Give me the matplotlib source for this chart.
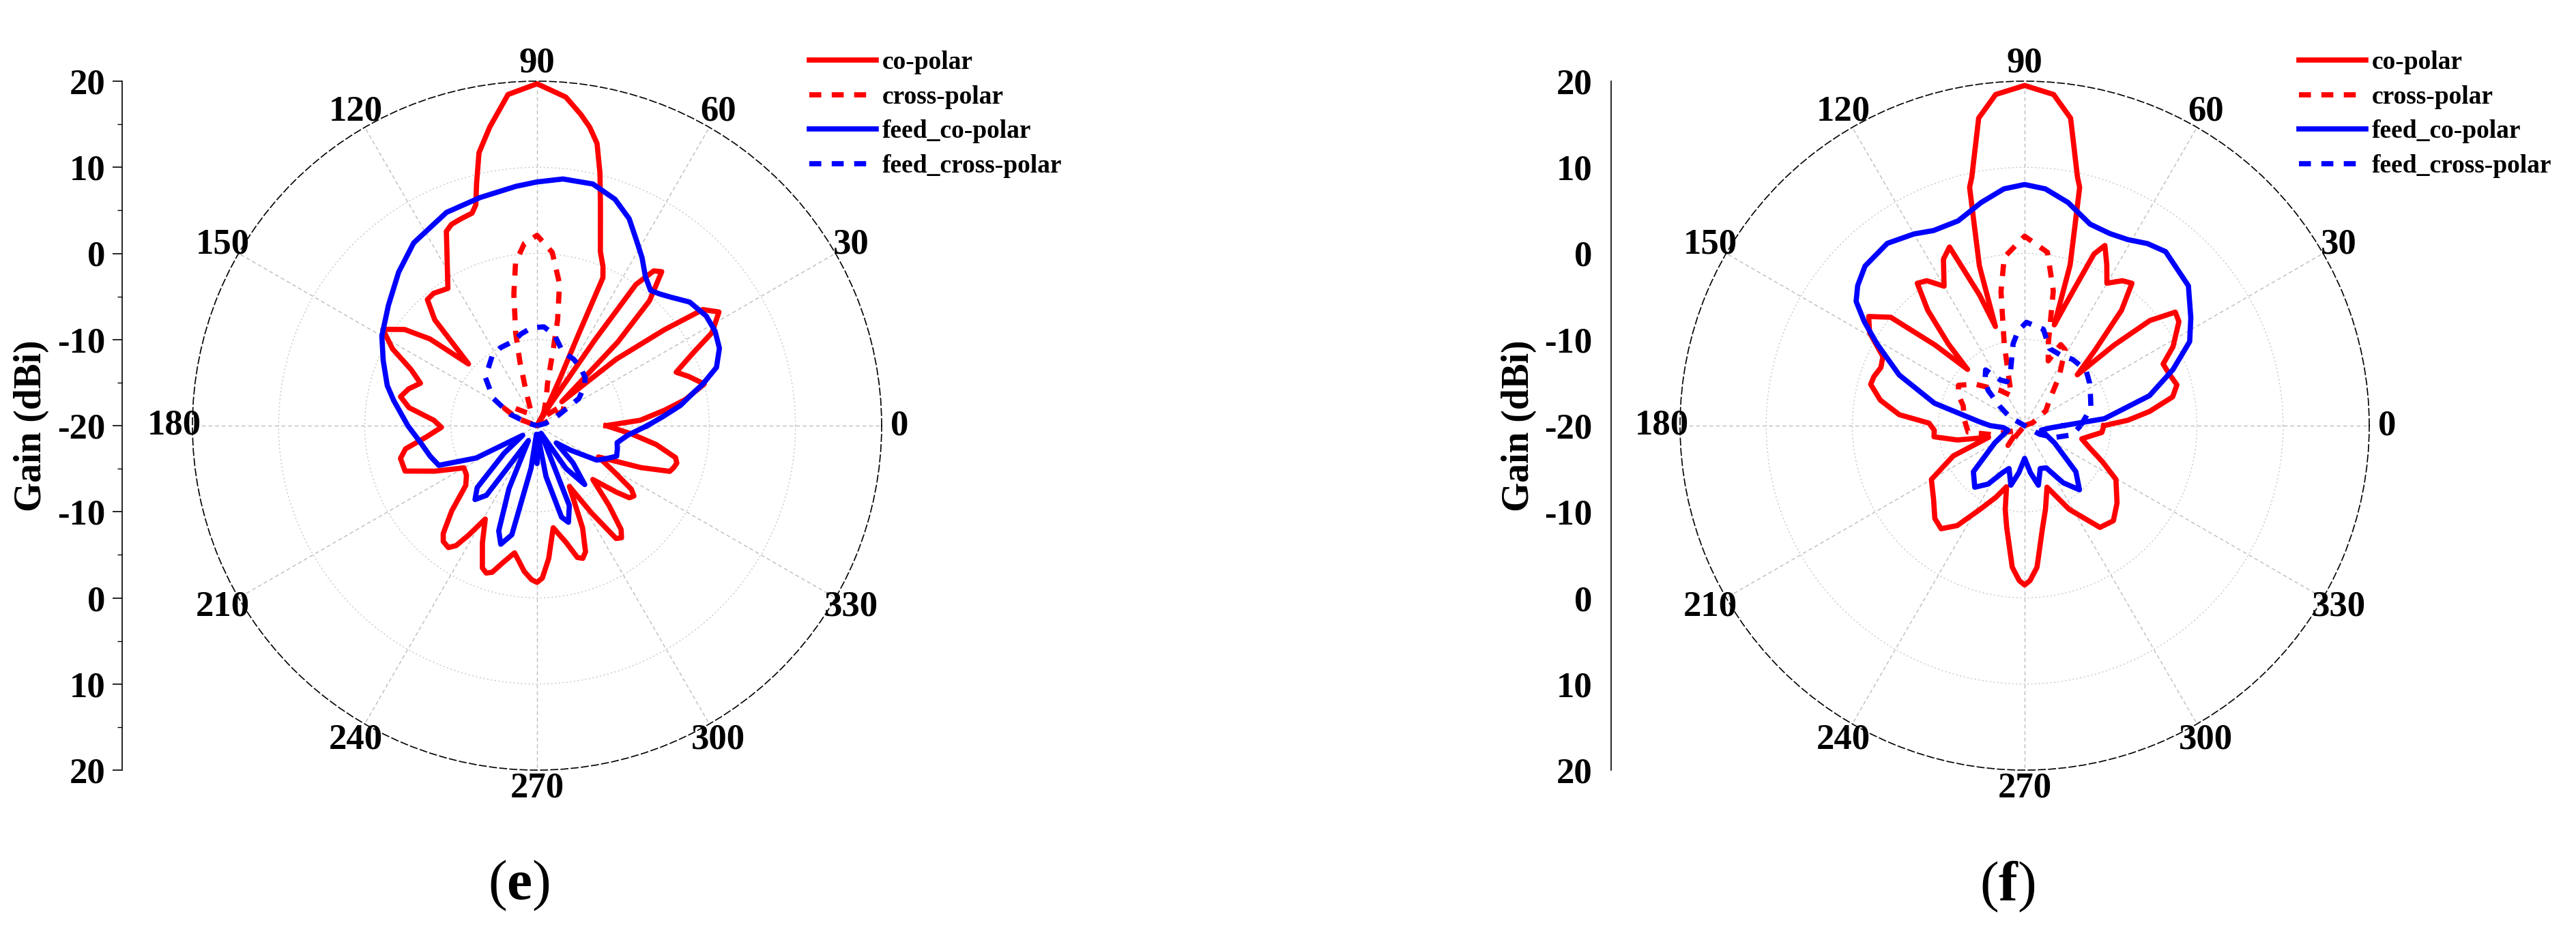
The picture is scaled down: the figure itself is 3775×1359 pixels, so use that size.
import numpy as np
import matplotlib.pyplot as plt

plt.rcParams["font.family"] = ["Liberation Serif", "DejaVu Serif"]
plt.rcParams["mathtext.fontset"] = "custom"
plt.rcParams["mathtext.rm"] = "Liberation Serif"
plt.rcParams["mathtext.bf"] = "Liberation Serif:bold"

RED = "#ff0000"
BLUE = "#0000ff"

LEGEND_LABELS = ["co-polar", "cross-polar", "feed_co-polar", "feed_cross-polar"]
THETA_TICKS = list(range(0, 360, 30))
GAIN_TICKS = [-40, -30, -20, -10, 0, 10, 20, 30, 40]
GAIN_LABELS = ["20", "10", "0", "-10", "-20", "-10", "0", "10", "20"]

# ---- panel (e): angle (deg) / gain (dBi) ----
E_CO_ANG = [0, 3, 7, 10, 14, 18, 21, 25, 28, 32, 35, 37, 40, 44, 46, 48, 51, 53, 55,
            56, 58, 60, 62, 64, 65.5, 66, 67.5, 70, 74, 76, 78, 80, 82, 85, 90, 95,
            99, 102, 104, 105.5, 107, 110, 113, 115, 119, 123, 128, 131, 134, 138,
            141, 144, 148, 152, 156, 160, 164, 168, 172, 177, 181, 186, 190, 193.5,
            199, 204, 210, 215, 220, 225, 229, 231, 234, 236, 238, 241, 245, 249, 251,
            253, 256, 260, 265, 268, 270, 272, 275, 279, 284, 287, 289, 291, 294, 298,
            302, 305, 307, 309, 312, 316, 320, 322, 324, 326, 329, 333, 338, 341, 343,
            345, 347, 351, 355, 360]
E_CO_DB = [-12, -8, -5, -2.5, 0, -1.5, -2.7, 0, 3, 4.9, 3.5, -1.5, -8, -16, -6.5, -0.5,
           3, 2.5, 0, -8, -17, -20, -17, -14, -9, -1.2, 0, 1.5, 6.7, 10.2, 13.5, 15.2,
           16.5, 18.3, 19.7, 18.6, 15.1, 12.4, 9, 6.6, 5.8, 5.6, 5.4, 4.9, 1.5, -1,
           -0.5, -0.6, -2.9, -9.3, -4, -1, 1.1, -1, -4, -5.6, -4.5, -3.8, -5, -8, -8.9,
           -7, -4.5, -3.7, -3.8, -7, -10.2, -10, -9.2, -6, -3.4, -2.7, -2.5, -3.2, -5,
           -7.6, -5, -2.3, -1.9, -2.2, -3.6, -5, -3, -2.1, -1.8, -2.3, -4.5, -8, -6,
           -4, -3.7, -4.3, -7, -12, -8, -4, -3.7, -4.5, -7.5, -11, -8, -6.4, -6.1,
           -6.8, -9.5, -12, -7, -3.7, -3.4, -3.2, -3.5, -6, -9, -12]

E_X_ANG = [0, 20, 30, 38, 45, 55, 65, 72, 76, 78, 79, 81, 85, 90, 94, 97.5, 100, 103,
           105, 108, 115, 130, 145, 152, 160, 175, 360]
E_X_DB = [-20, -19, -16.5, -16, -18, -19, -18, -16.5, -15, -11, -7.5, -3.3, 0.2, 2.1,
          1.2, -0.9, -4.5, -9, -12.3, -16, -18.5, -18, -16, -15.7, -17.5, -20, -20]

E_FCO_ANG = [0, 4, 8, 12, 14, 18, 23, 28, 33, 39, 44, 47, 50, 54, 58, 62, 66, 71, 77,
             84, 90, 95, 104, 113, 124, 132, 141, 150, 157, 165, 170, 180, 188, 196,
             202, 208, 214, 220, 226, 230, 234, 240, 246, 250, 253, 257, 262, 266,
             270, 274, 280, 285, 288, 292, 298, 304, 309, 314, 318, 324, 330, 334,
             339, 344, 348, 354, 360]
E_FCO_DB = [-7.2, -5.4, -3.2, -1.4, -0.2, 1.9, 3.0, 3.4, 3.4, 2.8, 1.5, 0.9, 0.5, 1.4,
            3, 4.5, 6.3, 7.8, 8.8, 8.8, 8.3, 7.9, 7.3, 6.9, 5.6, 4, 2.2, 0.8, -0.6, -2,
            -3.1, -5, -6.3, -7.1, -7.7, -12, -18, -15, -10, -8.8, -10, -18, -12, -7,
            -5.6, -7, -15, -19, -15.6, -19, -14, -9, -8.2, -10, -19, -14, -11.2, -14,
            -17, -15.1, -12, -11.2, -10.1, -10.3, -10.5, -9.4, -7.2]

E_FX_ANG = [0, 15, 22, 27, 33, 40, 45, 53, 61, 71, 79, 86, 93, 100, 105, 115, 123, 137,
            148, 157, 165, 175, 360]
E_FX_DB = [-20, -19, -18, -17, -14.2, -12.8, -12.1, -11.6, -11.2, -10.9, -9.3, -8.5,
           -8.6, -9.2, -9.8, -10, -10.4, -11.8, -14, -16.6, -19, -20, -20]

# ---- panel (f) ----
F_CO_ANG = [0, 3, 6.5, 11, 15, 20, 24, 28, 34, 37, 40, 42, 44, 47, 50, 53, 56, 60, 63,
            66, 68, 70, 72, 73.6, 74.2, 77, 78, 81.5, 85, 90, 95, 98.5, 102, 103,
            105.8, 106.4, 109, 112.8, 116, 120, 124, 127, 130, 133, 135.4, 138, 141,
            145, 149, 154, 158, 162, 165, 170, 175, 178.5, 183, 187, 192, 198, 203,
            210, 219, 226, 231, 236, 242, 248, 253.5, 257, 260, 265, 268, 270, 272,
            275, 280, 284, 290, 298, 306.5, 313, 320, 329.5, 335, 341, 347, 352, 355,
            360]
F_CO_DB = [-10.8, -8, -5.4, -2.5, -1.7, -2.2, -2.4, -0.5, 1.6, 1.9, -1, -6, -11.5, -8,
           -2.5, 0.7, 0.3, -0.9, 1, 2.9, 1.5, -3, -6, -7.8, -0.6, 8.4, 9.5, 16.1, 18.6,
           19.5, 18.6, 16.1, 9.5, 8.4, -0.7, -8, -4, 2.5, 1.5, -1.3, 0.3, 0.7, -2.5,
           -7, -10.7, -6, 0, 2.1, 1, -1.7, -2, -1.6, -1.5, -3, -5.4, -8.9, -9.5, -9.4,
           -12, -15.6, -11, -7.5, -6.4, -5, -4.6, -6, -9, -11, -12.6, -10, -8, -3.5,
           -2, -1.5, -2, -3.5, -8, -10, -12.4, -9, -5.3, -4.9, -6, -7.7, -10, -12,
           -13.2, -12, -11, -10.8]

F_X_ANG = [0, 20, 35, 45, 55, 62, 66, 70, 74, 75.3, 78, 82.5, 90, 96.9, 100, 104, 108,
           114, 125, 140, 148.6, 155, 162, 175, 186.6, 195, 205, 215, 230, 245, 360]
F_X_DB = [-20, -19, -17, -16, -13, -10, -9.7, -12, -10, -8.6, -4, 0.3, 2.0, -0.3, -4.2,
          -10.2, -14, -16.2, -15, -12.5, -11, -11.5, -12.5, -13, -13.4, -16, -18.5,
          -19, -17, -20, -20]

F_FCO_ANG = [0, 5, 13.5, 20.7, 27, 33, 40.5, 51, 56, 61, 66, 72, 79, 85, 90, 95, 101,
             108, 115, 120, 127, 135, 140, 143.6, 147, 151, 158, 166, 175, 180, 185,
             195, 210, 222, 231, 238, 245, 250, 257, 263, 270, 277, 283, 290, 297, 304,
             310.5, 318, 330, 345, 355, 360]
F_FCO_DB = [-15.5, -10.7, -5.1, -1.6, 1.5, 3.0, 5.0, 6.0, 5.5, 4.7, 4.4, 4.6, 6.4, 7.6,
            8.0, 7.6, 6.4, 5.0, 5.0, 5.7, 6.5, 6.2, 5.3, 4.3, 2.2, -0.4, -4.3, -9.2,
            -14.7, -16, -17.5, -18, -16, -12, -10.8, -12, -14, -14.7, -12.9, -14.5,
            -16.2, -14.5, -12.9, -14.7, -14.5, -12, -10.2, -12, -16, -18, -17, -15.5]

F_FX_ANG = [0, 8.5, 16, 24.5, 33, 42, 54, 63, 72, 79, 89, 94, 98, 104, 112, 118, 125,
            131, 136, 142, 150, 165, 320, 330, 338, 349, 360]
F_FX_DB = [-13.5, -12.8, -12, -11.6, -11, -10.4, -10.5, -10.8, -10.6, -8.6, -8, -9,
           -10.4, -13.3, -14.5, -14, -12.1, -13, -14.1, -16.3, -18, -20, -20, -18,
           -16.3, -14.4, -13.5]

FONT = {"family": "Liberation Serif", "weight": "bold"}
LW = 5.5
DASH = (0, (2.3, 2.0))


def draw_panel(fig, polar_rect, spine_x, curves, legend_xy, gain_xy, letter_xy, letter,
               spine_ticks):
    ax = fig.add_axes(polar_rect, projection="polar")
    styles = [(RED, "-"), (RED, DASH), (BLUE, "-"), (BLUE, DASH)]
    for (ang, db), (color, ls), label in zip(curves, styles, LEGEND_LABELS):
        ax.plot(np.radians(ang), db, color=color, linestyle=ls, linewidth=LW,
                label=label, solid_joinstyle="round")

    ax.set_ylim(-20, 20)
    ax.set_yticks([-10, 0, 10])
    ax.set_yticklabels([])
    ax.tick_params(axis="y", length=0)
    ax.set_thetagrids(THETA_TICKS, labels=[str(t) for t in THETA_TICKS],
                      fontsize=38, fontweight="bold")
    ax.set_xticks(np.radians(np.arange(15, 360, 30)), minor=True)
    ax.tick_params(axis="x", which="major", direction="in", length=10, width=1.2,
                   pad=12)
    ax.tick_params(axis="x", which="minor", direction="in", length=4, width=1)
    ax.xaxis.grid(True, color="#bcbcbc", linestyle=(0, (4, 3)), linewidth=1)
    ax.yaxis.grid(True, color="#c8c8c8", linestyle=(0, (1.5, 2.5)), linewidth=1)
    ax.spines["polar"].set_linestyle((0, (6, 3)))
    ax.spines["polar"].set_linewidth(1.2)

    ax.legend(loc="upper left", bbox_to_anchor=legend_xy,
              bbox_transform=fig.transFigure, frameon=False,
              prop={"family": "Liberation Serif", "weight": "bold", "size": 27},
              handlelength=2.6, handletextpad=0.25, labelspacing=0.42,
              borderpad=0, borderaxespad=0)

    # straight gain scale to the left of the polar plot
    bottom, height = polar_rect[1], polar_rect[3]
    sc = fig.add_axes([spine_x, bottom, 0.0005, height])
    sc.patch.set_alpha(0)
    for side in ("right", "top", "bottom"):
        sc.spines[side].set_visible(False)
    sc.spines["left"].set_linewidth(1.2)
    sc.set_ylim(-40, 40)
    sc.set_xticks([])
    sc.set_yticks(GAIN_TICKS)
    sc.set_yticklabels(GAIN_LABELS, fontdict=dict(FONT, size=38))
    if spine_ticks:
        sc.set_yticks(np.arange(-35, 40, 10), minor=True)
        sc.tick_params(axis="y", which="major", direction="out", length=10,
                       width=1.2, pad=8)
        sc.tick_params(axis="y", which="minor", direction="out", length=5, width=1)
    else:
        sc.tick_params(axis="y", which="both", length=0, pad=20)

    fig.text(gain_xy[0], gain_xy[1], "Gain (dBi)", rotation=90, ha="center",
             va="center", fontsize=40, **FONT)
    fig.text(letter_xy[0], letter_xy[1], r"($\mathbf{" + letter + "}$)", ha="center",
             va="center", fontsize=60, family="Liberation Serif")
    return ax


W, H = 3775, 1359
fig = plt.figure(figsize=(W / 100, H / 100), dpi=100)

draw_panel(
    fig,
    [282 / W, 1 - 1129 / H, 1010 / W, 1010 / H],
    179 / W,
    [(E_CO_ANG, E_CO_DB), (E_X_ANG, E_X_DB), (E_FCO_ANG, E_FCO_DB), (E_FX_ANG, E_FX_DB)],
    (1186 / W, 1 - 74 / H),
    (46 / W, 1 - 624 / H),
    (760 / W, 1 - 1298 / H),
    "e",
    True,
)
draw_panel(
    fig,
    [2462 / W, 1 - 1129 / H, 1010 / W, 1010 / H],
    2361 / W,
    [(F_CO_ANG, F_CO_DB), (F_X_ANG, F_X_DB), (F_FCO_ANG, F_FCO_DB), (F_FX_ANG, F_FX_DB)],
    (3369 / W, 1 - 74 / H),
    (2226 / W, 1 - 624 / H),
    (2942 / W, 1 - 1300 / H),
    "f",
    False,
)

fig.savefig("out.png", dpi=100, facecolor="white")
